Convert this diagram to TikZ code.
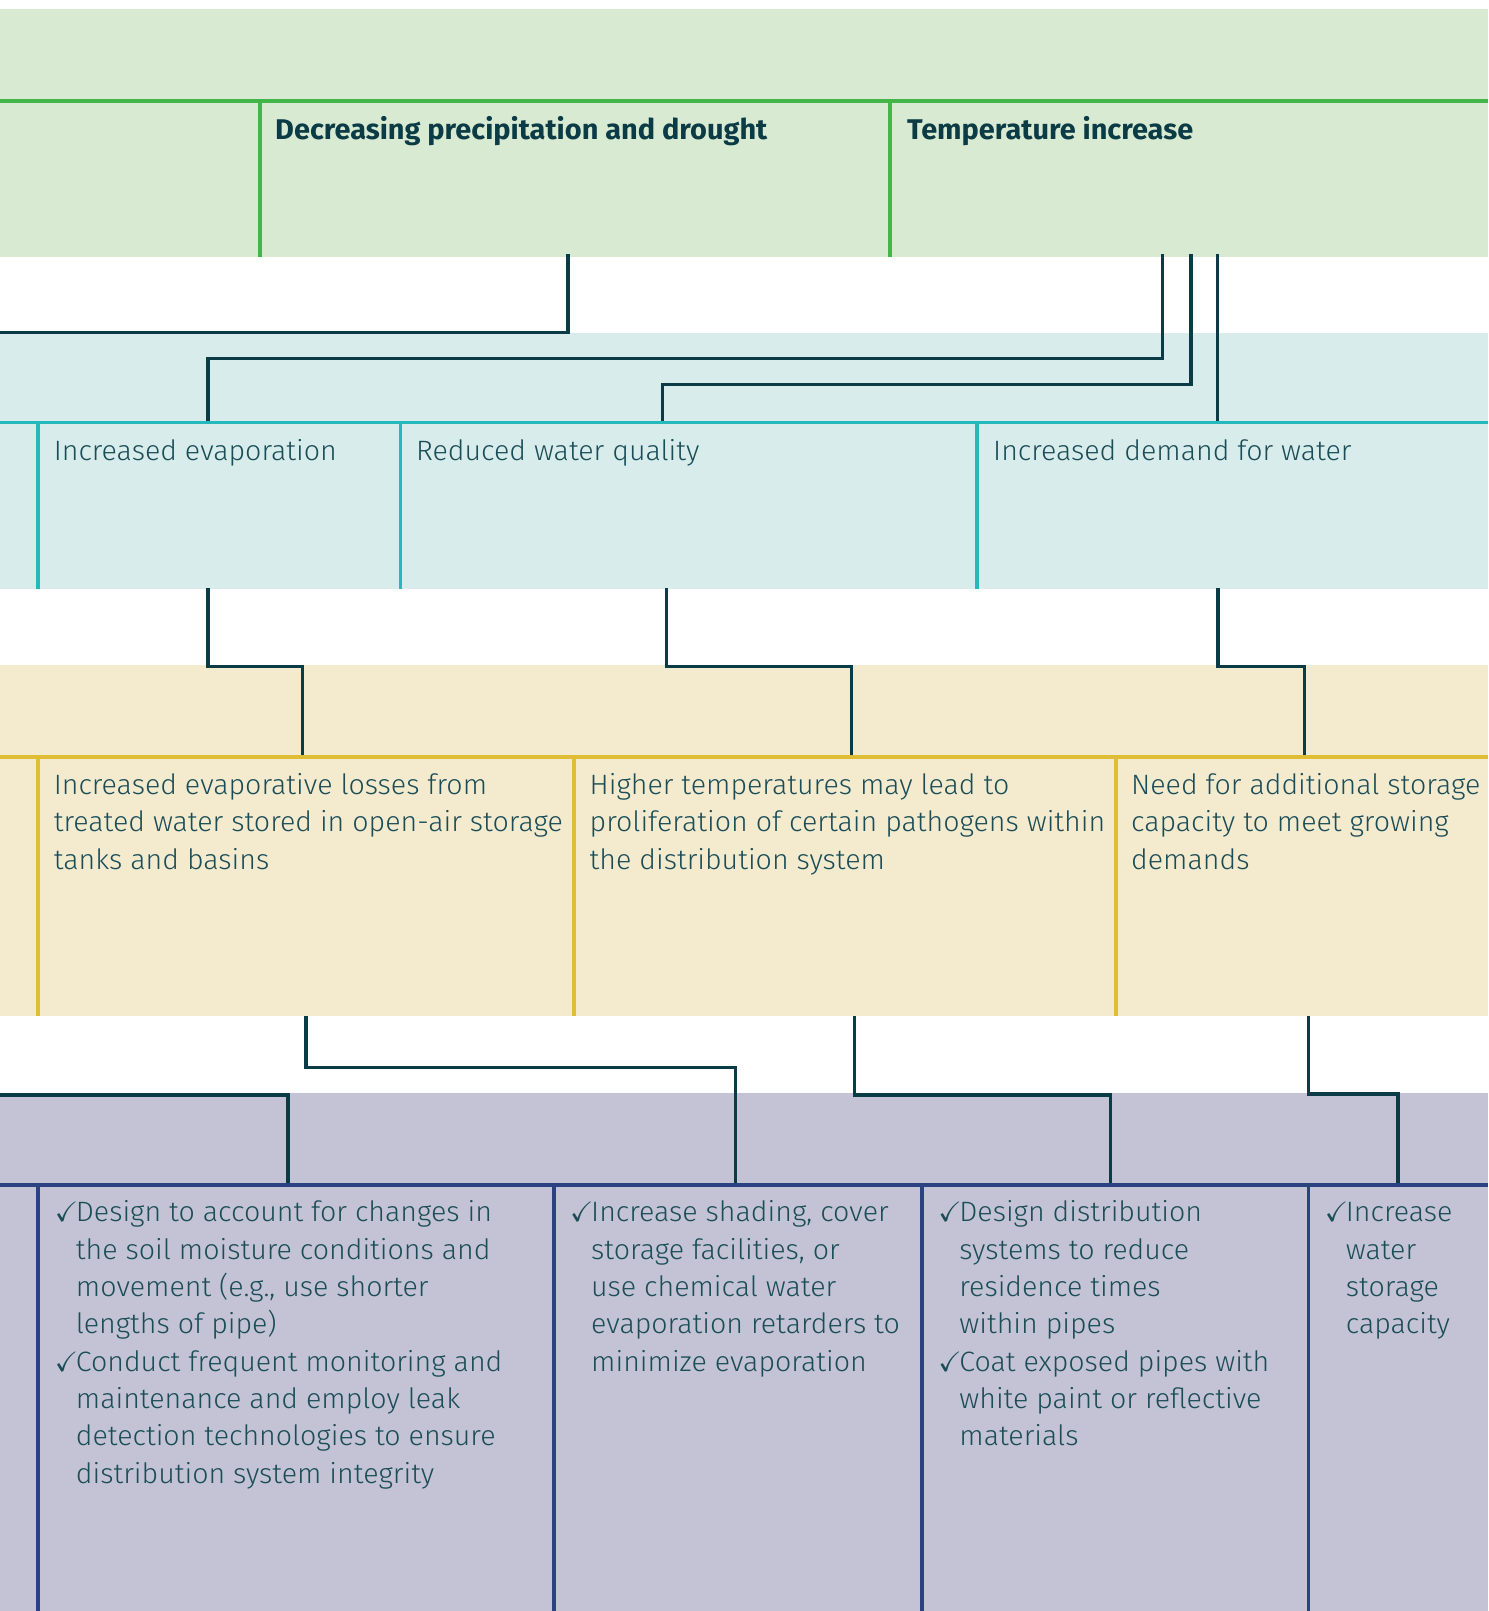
\documentclass[tikz,border=0pt]{standalone}
\usepackage{amssymb}
\usepackage{fontspec}
\IfFontExistsTF{Fira Sans Light}{\setmainfont{Fira Sans Light}[FakeStretch=1.02]}{\setmainfont{Lato}}
\IfFontExistsTF{Fira Sans Bold}{\newfontfamily\hdfont{Fira Sans Bold}[FakeStretch=1.015]}{\newfontfamily\hdfont{Lato}[FakeBold=2]}
\definecolor{bandG}{HTML}{D9EAD3}
\definecolor{lineG}{HTML}{44B549}
\definecolor{bandT}{HTML}{D8EDEB}
\definecolor{lineT}{HTML}{25B9BB}
\definecolor{bandY}{HTML}{F4EBCF}
\definecolor{lineY}{HTML}{DFBE35}
\definecolor{bandP}{HTML}{C4C3D6}
\definecolor{lineP}{HTML}{2B4282}
\definecolor{connC}{HTML}{0B3C46}
\definecolor{txtC}{HTML}{1B4D57}
\definecolor{hdC}{HTML}{0B3B45}
\newcommand\firstln{\rule{0pt}{26pt}}
\newcommand\ck{\makebox[21pt][l]{$\checkmark$}}
\newcommand\ind{\hspace*{21pt}}
\begin{document}
\begin{tikzpicture}[x=1pt,y=-1pt,
  conn/.style={draw=connC,line width=3.5pt},
  sepline/.style={line width=3.8pt},
  hdr/.style={font=\hdfont\fontsize{28.5}{34}\selectfont,text=hdC,anchor=base west,inner sep=0pt},
  one/.style={font=\fontsize{28}{37.3}\selectfont,text=txtC,anchor=base west,inner sep=0pt},
  body/.style={font=\fontsize{28}{37.3}\selectfont,text=txtC,align=left,anchor=north west,inner sep=0pt}]
\useasboundingbox (0,0) rectangle (1488,1611);
% bands
\fill[bandG] (0,9) rectangle (1488,256.5);
\fill[bandT] (0,332.5) rectangle (1488,588.5);
\fill[bandY] (0,664.5) rectangle (1488,1016);
\fill[bandP] (0,1092.5) rectangle (1488,1611);
% connector end points
\coordinate (dp) at (568,254);
\coordinate (dpL) at (0,332.5);
\coordinate (ti1) at (1162.6,254);
\coordinate (ti2) at (1191,254);
\coordinate (ti3) at (1217.5,254);
\coordinate (k1) at (207.8,358.7);
\coordinate (k2) at (662.5,384.3);
\coordinate (evIn) at (207.8,422);
\coordinate (rqIn) at (662.5,422);
\coordinate (dwIn) at (1217.5,422);
\coordinate (evOut) at (207.8,588);
\coordinate (rqOut) at (666.5,588);
\coordinate (dwOut) at (1218,588);
\coordinate (k3) at (302.3,666.7);
\coordinate (k4) at (851.4,666.7);
\coordinate (k5) at (1304.3,666.7);
\coordinate (y1In) at (302.3,757);
\coordinate (y2In) at (851.4,757);
\coordinate (y3In) at (1304.3,757);
\coordinate (y1Out) at (306,1016);
\coordinate (y2Out) at (854.5,1016);
\coordinate (y3Out) at (1308.5,1016);
\coordinate (pL) at (0,1095);
\coordinate (k6) at (735.3,1067.7);
\coordinate (k7) at (1110.7,1095);
\coordinate (k8) at (1398,1094);
\coordinate (p1In) at (287.8,1185);
\coordinate (p2In) at (735.3,1185);
\coordinate (p3In) at (1110.7,1185);
\coordinate (p4In) at (1398,1185);
% connectors
\draw[conn] (dp) |- (dpL);
\draw[conn] (ti1) |- (k1) -- (evIn);
\draw[conn] (ti2) |- (k2) -- (rqIn);
\draw[conn] (ti3) -- (dwIn);
\draw[conn] (evOut) |- (k3) -- (y1In);
\draw[conn] (rqOut) |- (k4) -- (y2In);
\draw[conn] (dwOut) |- (k5) -- (y3In);
\draw[conn] (y1Out) |- (k6) -- (p2In);
\draw[conn] (pL) -| (p1In);
\draw[conn] (y2Out) |- (k7) -- (p3In);
\draw[conn] (y3Out) |- (k8) -- (p4In);
% band separator lines
\draw[sepline,lineG] (0,101) -- (1488,101);
\draw[sepline,lineG] (260,101) -- (260,256.5) (890,101) -- (890,256.5);
\draw[sepline,lineT] (0,422.5) -- (1488,422.5);
\draw[sepline,lineT] (38,422.5) -- (38,588.5) (400.5,422.5) -- (400.5,588.5) (977,422.5) -- (977,588.5);
\draw[sepline,lineY] (0,757.3) -- (1488,757.3);
\draw[sepline,lineY] (38,757.3) -- (38,1016) (574,757.3) -- (574,1016) (1116,757.3) -- (1116,1016);
\draw[sepline,lineP] (0,1185) -- (1488,1185);
\draw[sepline,lineP] (38,1185) -- (38,1611) (553.8,1185) -- (553.8,1611) (921.9,1185) -- (921.9,1611) (1308.5,1185) -- (1308.5,1611);
% texts
\node[hdr] (hd1) at (275,139.3) {Decreasing precipitation and drought};
\node[hdr] (hd2) at (907,139.3) {Temperature increase};
\node[one] (ev) at (53.6,460) {Increased evaporation};
\node[one] (rq) at (416,460) {Reduced water quality};
\node[one] (dw) at (993,460) {Increased demand for water};
\node[body] (ya) at (53.6,768.3) {\firstln Increased evaporative losses from\\treated water stored in open-air storage\\tanks and basins};
\node[body] (yb) at (589.5,768.3) {\firstln Higher temperatures may lead to\\proliferation of certain pathogens within\\the distribution system};
\node[body] (yc) at (1131,768.3) {\firstln Need for additional storage\\capacity to meet growing\\demands};
\node[body] (pa) at (54.7,1195.7) {\firstln\ck Design to account for changes in\\\ind the soil moisture conditions and\\\ind movement (e.g., use shorter\\\ind lengths of pipe)\\\ck Conduct frequent monitoring and\\\ind maintenance and employ leak\\\ind detection technologies to ensure\\\ind distribution system integrity};
\node[body] (pb) at (570,1195.7) {\firstln\ck Increase shading, cover\\\ind storage facilities, or\\\ind use chemical water\\\ind evaporation retarders to\\\ind minimize evaporation};
\node[body] (pc) at (938.2,1195.7) {\firstln\ck Design distribution\\\ind systems to reduce\\\ind residence times\\\ind within pipes\\\ck Coat exposed pipes with\\\ind white paint or reflective\\\ind materials};
\node[body] (pd) at (1324.7,1195.7) {\firstln\ck Increase\\\ind water\\\ind storage\\\ind capacity};
\end{tikzpicture}
\end{document}
